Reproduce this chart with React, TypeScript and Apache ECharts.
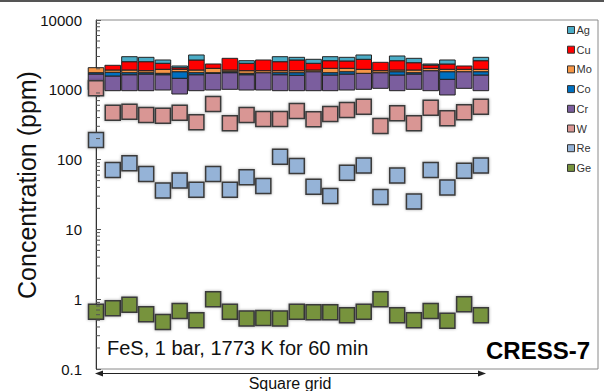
import React, { useEffect, useRef } from "react";
import * as echarts from "echarts";

// Sample positions along the square grid (x index)
const gridPoints = [0, 1, 2, 3, 4, 5, 6, 7, 8, 9, 10, 11, 12, 13, 14, 15, 16, 17, 18, 19, 20, 21, 22, 23];

// Floating stack base (ppm) for the stacked-element columns
const stackBase = [1000, 971, 971, 971, 993, 871, 971, 993, 1016, 993, 993, 971, 971, 971, 971, 993, 1016, 1050, 971, 1016, 971, 843, 1050, 971];
// Stacked increments (ppm), bottom to top: Cr, Co, Mo, Cu, Ag
const crValues = [683, 606, 673, 712, 651, 591, 673, 729, 742, 651, 765, 673, 644, 845, 658, 690, 706, 708, 658, 667, 908, 571, 766, 658];
const coValues = [75, 205, 114, 75, 78, 354, 114, 36, 58, 78, 0, 114, 143, 0, 129, 133, 0, 0, 187, 75, 0, 402, 0, 187];
const moValues = [316, 140, 164, 121, 245, 151, 164, 274, 106, 157, 121, 121, 121, 106, 274, 216, 245, 121, 106, 164, 153, 151, 151, 151];
const cuValues = [0, 322, 607, 650, 430, 107, 751, 311, 903, 518, 794, 650, 794, 475, 580, 556, 768, 598, 690, 523, 233, 376, 226, 645];
const agValues = [0, 0, 451, 391, 276, 119, 482, 0, 0, 215, 0, 451, 247, 338, 368, 332, 420, 0, 438, 380, 78, 330, 0, 308];

// Individually plotted elements (ppm)
const wValues = [1050, 470, 485, 435, 425, 470, 342, 626, 331, 435, 382, 382, 497, 378, 450, 514, 573, 303, 460, 331, 554, 391, 476, 573];
const reValues = [191, 71, 89, 62, 36, 50, 37, 62, 37, 56, 42, 110, 81, 41, 30, 65, 82, 29, 59, 25, 71, 40, 69, 82];
const geValues = [0.66, 0.74, 0.83, 0.61, 0.47, 0.68, 0.5, 1.0, 0.66, 0.53, 0.54, 0.53, 0.66, 0.65, 0.65, 0.59, 0.66, 1.0, 0.59, 0.5, 0.68, 0.49, 0.85, 0.59];

const yTickLabels = ["0.1", "1", "10", "100", "1000", "10000"];
const legendNames = ["Ag", "Cu", "Mo", "Co", "Cr", "W", "Re", "Ge"];

const FONT = "Liberation Sans, Arial, sans-serif";

const colors: Record<string, string> = {
  Ag: "#4BACC6",
  Cu: "#FF0000",
  Mo: "#F79646",
  Co: "#0070C0",
  Cr: "#7B5E9E",
  W: "#D99694",
  Re: "#95B3D7",
  Ge: "#77933C",
};

export default function App() {
  const ref = useRef<HTMLDivElement>(null);

  useEffect(() => {
    if (!ref.current) return;
    const chart = echarts.init(ref.current, null, { renderer: "svg" });

    const stackOrder = [
      { name: "Cr", vals: crValues },
      { name: "Co", vals: coValues },
      { name: "Mo", vals: moValues },
      { name: "Cu", vals: cuValues },
      { name: "Ag", vals: agValues },
    ];

    const stackSeries = stackOrder.map((el, k) => {
      const data: number[][] = [];
      gridPoints.forEach((x, i) => {
        let lower = stackBase[i];
        for (let j = 0; j < k; j++) lower += stackOrder[j].vals[i];
        const upper = lower + el.vals[i];
        if (upper > lower) data.push([x, lower, upper]);
      });
      const color = colors[el.name];
      return {
        name: el.name,
        type: "custom",
        coordinateSystem: "cartesian2d",
        itemStyle: { color, borderColor: "#222", borderWidth: 1 },
        encode: { x: 0, y: [1, 2] },
        data,
        z: 2,
        renderItem: (params: any, api: any) => {
          const x = api.value(0);
          const p0 = api.coord([x, api.value(1)]);
          const p1 = api.coord([x, api.value(2)]);
          const l = api.coord([x - 0.5, api.value(1)]);
          const r = api.coord([x + 0.5, api.value(1)]);
          const w = (r[0] - l[0]) * 0.93;
          return {
            type: "rect",
            shape: { x: p0[0] - w / 2, y: p1[1], width: w, height: p0[1] - p1[1] },
            style: { fill: color, stroke: "#222", lineWidth: 1 },
          };
        },
      };
    });

    const squareSeries = [
      { name: "W", vals: wValues },
      { name: "Re", vals: reValues },
      { name: "Ge", vals: geValues },
    ].map((el) => ({
      name: el.name,
      type: "scatter",
      symbol: "rect",
      symbolSize: 15,
      z: 3,
      data: gridPoints.map((x, i) => [x, el.vals[i]]),
      itemStyle: {
        color: colors[el.name],
        borderColor: "#3a3a3a",
        borderWidth: 1.5,
        shadowBlur: 3,
        shadowColor: "rgba(0,0,0,0.35)",
        opacity: 1,
      },
    }));

    // log minor ticks (2..9 x 10^k)
    const minorTicks: number[][] = [];
    for (let e = -1; e < 4; e++) {
      for (let m = 2; m <= 9; m++) minorTicks.push([0, m * Math.pow(10, e)]);
    }

    const minorTickSeries = {
      name: "minorTicks",
      type: "custom",
      coordinateSystem: "cartesian2d",
      silent: true,
      z: 4,
      data: minorTicks,
      encode: { x: 0, y: 1 },
      renderItem: (params: any, api: any) => {
        const p = api.coord([api.value(0), api.value(1)]);
        return {
          type: "line",
          shape: { x1: p[0], y1: p[1], x2: p[0] + 4, y2: p[1] },
          style: { stroke: "#555", lineWidth: 1 },
        };
      },
    };

    const option: any = {
      animation: false,
      backgroundColor: "#fff",
      textStyle: { fontFamily: FONT },
      grid: {
        left: 96,
        top: 20,
        right: 6,
        bottom: 22,
        show: true,
        borderColor: "#8a8a8a",
        borderWidth: 1,
        containLabel: false,
      },
      legend: {
        data: legendNames,
        orient: "vertical",
        left: 567,
        top: 24.5,
        itemWidth: 7,
        itemHeight: 7,
        itemGap: 8.7,
        icon: "rect",
        padding: 0,
        selectedMode: false,
        itemStyle: { borderColor: "#333", borderWidth: 1, shadowBlur: 0 },
        textStyle: { fontSize: 11, lineHeight: 11, color: "#333", fontFamily: FONT, padding: [0, 0, 0, -3] },
      },
      xAxis: {
        type: "value",
        min: 0,
        max: 30,
        show: false,
      },
      yAxis: {
        type: "log",
        logBase: 10,
        min: 0.1,
        max: 10000,
        axisLine: { show: true, lineStyle: { color: "#333", width: 1 } },
        axisTick: { show: true, inside: true, length: 5, lineStyle: { color: "#555" } },
        splitLine: { show: false },
        axisLabel: {
          fontSize: 15,
          color: "#111",
          margin: 14,
          fontFamily: FONT,
          formatter: (v: number) => yTickLabels[Math.round(Math.log10(v)) + 1] ?? String(v),
        },
      },
      graphic: [
        {
          type: "line",
          shape: { x1: 0, y1: 1, x2: 604, y2: 1 },
          style: { stroke: "#555", lineWidth: 2 },
        },
        {
          type: "text",
          x: 27,
          y: 185,
          rotation: Math.PI / 2,
          style: {
            text: "Concentration (ppm)",
            fontSize: 25,
            fontFamily: FONT,
            fill: "#111",
            align: "center",
            verticalAlign: "middle",
          },
        },
        {
          type: "text",
          x: 107,
          y: 348,
          style: {
            text: "FeS, 1 bar, 1773 K for 60 min",
            fontSize: 20,
            fontFamily: FONT,
            fill: "#111",
            align: "left",
            verticalAlign: "middle",
          },
        },
        {
          type: "text",
          x: 590,
          y: 350,
          style: {
            text: "CRESS-7",
            fontSize: 24,
            fontWeight: "bold",
            fontFamily: FONT,
            fill: "#000",
            align: "right",
            verticalAlign: "middle",
          },
        },
        {
          type: "line",
          shape: { x1: 100, y1: 373.5, x2: 481, y2: 373.5 },
          style: { stroke: "#222", lineWidth: 1 },
        },
        {
          type: "polygon",
          shape: { points: [[95, 373.5], [103, 370.5], [103, 376.5]] },
          style: { fill: "#222" },
        },
        {
          type: "polygon",
          shape: { points: [[486, 373.5], [478, 370.5], [478, 376.5]] },
          style: { fill: "#222" },
        },
        {
          type: "text",
          x: 290,
          y: 383,
          style: {
            text: "Square grid",
            fontSize: 16,
            fontFamily: FONT,
            fill: "#111",
            align: "center",
            verticalAlign: "middle",
          },
        },
      ],
      series: [...stackSeries, ...squareSeries, minorTickSeries],
    };

    chart.setOption(option);
    return () => chart.dispose();
  }, []);

  return (
    <div
      ref={ref}
      style={{ position: "fixed", left: 0, top: 0, width: 604, height: 391 }}
    />
  );
}
